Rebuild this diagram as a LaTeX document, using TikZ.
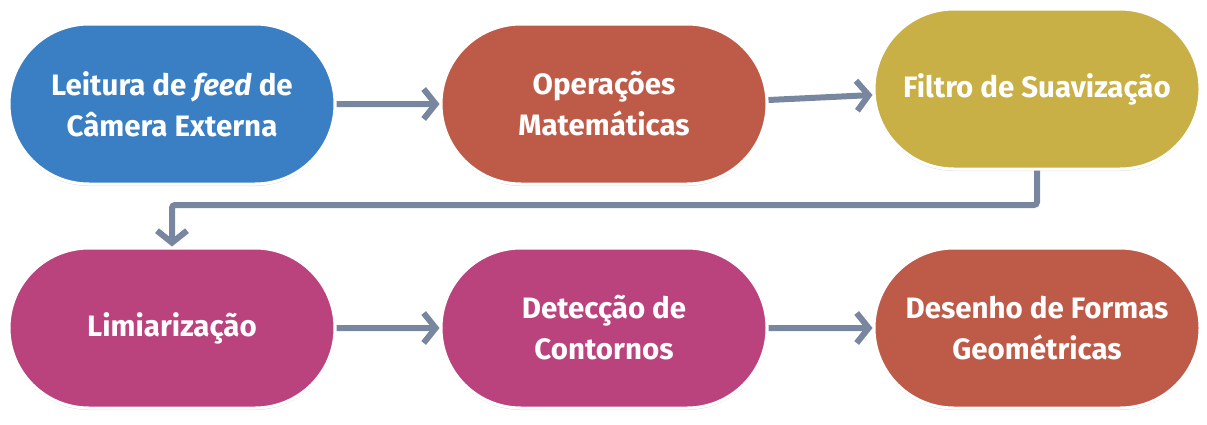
\documentclass[tikz,border=0pt]{standalone}
\usepackage{fontspec}
\setmainfont{Fira Sans}
\usetikzlibrary{shapes.misc,arrows.meta,shadows}
\definecolor{cblue}{HTML}{3A7FC3}
\definecolor{cred}{HTML}{BE5A48}
\definecolor{cgold}{HTML}{C8AF46}
\definecolor{cmag}{HTML}{BA427D}
\definecolor{carrow}{HTML}{7886A0}
\tikzset{
  stepbox/.style={rounded rectangle, minimum width=330pt, minimum height=160pt,
    draw=white, line width=3pt, text=white, align=center, inner xsep=2pt,
    font=\fontsize{29.5}{41}\selectfont\bfseries,
    drop shadow={opacity=0.25, shadow xshift=0pt, shadow yshift=-2pt}},
  flow/.style={draw=carrow, line width=6pt,
    -{Straight Barb[length=12pt,width=30pt,line width=6pt]}},
}
\begin{document}
\begin{tikzpicture}[x=1pt,y=-1pt]
\useasboundingbox (0,0) rectangle (1207,424);
\node[stepbox, fill=cblue] (n1) at (172,104) {Leitura de \textit{feed} de\\Câmera Externa};
\node[stepbox, fill=cred] (n2) at (604,104) {Operações\\Matemáticas};
\node[stepbox, fill=cgold] (n3) at (1037,89) {Filtro de Suavização};
\node[stepbox, fill=cmag] (n4) at (172,328) {Limiarização};
\node[stepbox, fill=cmag] (n5) at (604,328) {Detecção de\\Contornos};
\node[stepbox, fill=cred] (n6) at (1037,328) {Desenho de Formas\\Geométricas};
\coordinate (elb) at (604,205);
\draw[flow] (n1) -- (n2);
\draw[flow] ([yshift=4pt]n2.east) -- ([yshift=-6pt]n3.west);
\draw[flow, rounded corners=3pt] (n3.south) |- (elb) -| (n4.north);
\draw[flow] (n4) -- (n5);
\draw[flow] (n5) -- (n6);
\end{tikzpicture}
\end{document}
